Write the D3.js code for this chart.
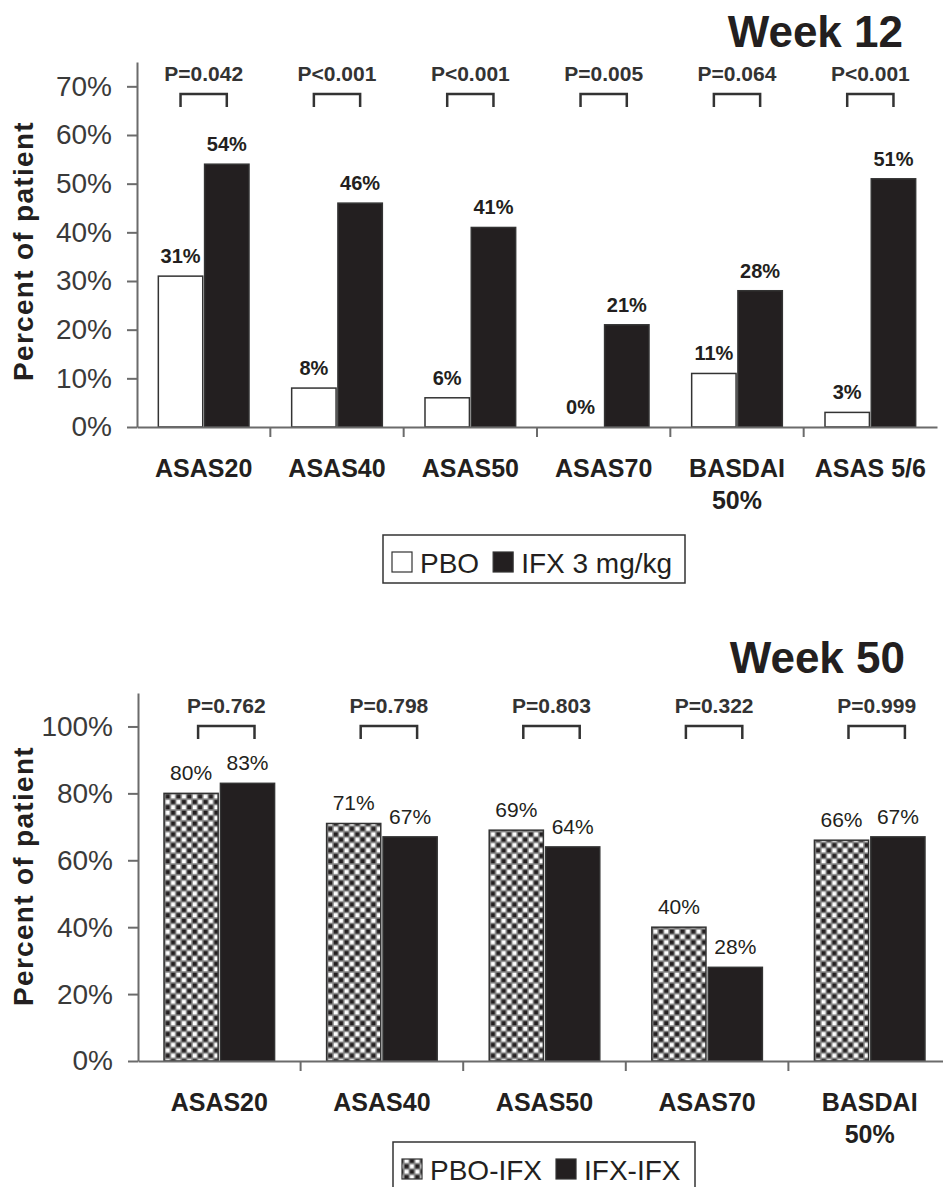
<!DOCTYPE html>
<html>
<head>
<meta charset="utf-8">
<script src="https://cdn.jsdelivr.net/npm/d3@7"></script>
<style>
  body { margin: 0; background: #fff; }
  svg { display: block; font-family: "Liberation Sans", Arial, sans-serif; }
</style>
</head>
<body>
<svg id="chart" width="943" height="1187"></svg>
<script>
// ---- Week 12 data ----
const week12Categories = ["ASAS20", "ASAS40", "ASAS50", "ASAS70", "BASDAI\n50%", "ASAS 5/6"];
const week12Pbo = [31, 8, 6, 0, 11, 3];
const week12Ifx = [54, 46, 41, 21, 28, 51];
const week12PValues = ["P=0.042", "P<0.001", "P<0.001", "P=0.005", "P=0.064", "P<0.001"];
const week12Ticks = [0, 10, 20, 30, 40, 50, 60, 70];
const week12Series = ["PBO", "IFX 3 mg/kg"];

// ---- Week 50 data ----
const week50Categories = ["ASAS20", "ASAS40", "ASAS50", "ASAS70", "BASDAI\n50%"];
const week50PboIfx = [80, 71, 69, 40, 66];
const week50IfxIfx = [83, 67, 64, 28, 67];
const week50PValues = ["P=0.762", "P=0.798", "P=0.803", "P=0.322", "P=0.999"];
const week50Ticks = [0, 20, 40, 60, 80, 100];
const week50Series = ["PBO-IFX", "IFX-IFX"];

const ink = "#231f20";
const axisColor = "#6b6b6b";

const svg = d3.select("#chart");
svg.append("rect").attr("width", 943).attr("height", 1187).attr("fill", "#fff");

// checker pattern for the PBO-IFX bars
const pat = svg.append("defs").append("pattern")
  .attr("id", "checker")
  .attr("width", 10.8).attr("height", 10.8)
  .attr("patternUnits", "userSpaceOnUse");
pat.append("rect").attr("width", 10.8).attr("height", 10.8).attr("fill", "#858585");
[[0, 0, ink], [5.4, 0, "#fff"], [0, 5.4, "#fff"], [5.4, 5.4, ink]].forEach(([px, py, c]) => {
  pat.append("rect").attr("x", px + 0.75).attr("y", py + 0.75)
    .attr("width", 3.9).attr("height", 3.9).attr("fill", c);
});

function drawPanel(cfg) {
  const x0 = d3.scaleBand()
    .domain(cfg.categories)
    .range([cfg.left, cfg.right])
    .padding(0);

  const x1 = d3.scaleBand()
    .domain([0, 1])
    .range([x0.bandwidth() * 0.16, x0.bandwidth() * 0.84])
    .paddingInner(0.04);

  const y = d3.scaleLinear()
    .domain([0, cfg.yMax])
    .range([cfg.bottom, cfg.top]);

  const g = svg.append("g");

  // title
  g.append("text")
    .attr("x", cfg.titleX)
    .attr("y", cfg.titleY)
    .attr("text-anchor", "end")
    .style("font-size", "44px")
    .style("font-weight", "bold")
    .attr("fill", ink)
    .text(cfg.title);

  // y axis
  const yAxis = g.append("g")
    .attr("transform", `translate(${cfg.left},0)`)
    .call(d3.axisLeft(y).tickValues(cfg.ticks).tickFormat(d => d + "%").tickSize(10).tickSizeOuter(0).tickPadding(15));
  yAxis.select(".domain").attr("stroke", axisColor).attr("stroke-width", 2);
  yAxis.selectAll(".tick line").attr("stroke", axisColor).attr("stroke-width", 2);
  yAxis.selectAll("text")
    .style("font-size", "28px")
    .attr("fill", "#3a3a3a")
    .attr("font-family", "Liberation Sans, Arial, sans-serif");

  g.append("text")
    .attr("transform", `translate(33,${cfg.yLabelY}) rotate(-90)`)
    .attr("text-anchor", "middle")
    .style("font-size", "28px")
    .style("font-weight", "bold")
    .style("letter-spacing", "1.3px")
    .attr("fill", ink)
    .text("Percent of patient");

  // bars
  const rows = cfg.categories.map((c, i) => ({ cat: c, vals: [cfg.a[i], cfg.b[i]], p: cfg.pValues[i] }));

  const groups = g.selectAll(".cat")
    .data(rows)
    .enter()
    .append("g")
    .attr("class", "cat")
    .attr("transform", d => `translate(${x0(d.cat)},0)`);

  groups.selectAll("rect")
    .data(d => d.vals.map((v, k) => ({ v, k })))
    .enter()
    .append("rect")
    .attr("x", d => x1(d.k))
    .attr("y", d => y(d.v))
    .attr("width", x1.bandwidth())
    .attr("height", d => cfg.bottom - y(d.v))
    .attr("fill", d => cfg.fills[d.k])
    .attr("stroke", d => d.v > 0 ? "#333" : "none")
    .attr("stroke-width", 1.5);

  groups.selectAll(".val")
    .data(d => d.vals.map((v, k) => ({ v, k })))
    .enter()
    .append("text")
    .attr("class", "val")
    .attr("x", d => x1(d.k) + x1.bandwidth() / 2)
    .attr("y", d => y(d.v) - 13)
    .attr("text-anchor", "middle")
    .style("font-size", cfg.valueSize)
    .style("font-weight", cfg.valueWeight)
    .attr("fill", ink)
    .text(d => d.v + "%");

  // p-value brackets
  const c0 = x1(0) + x1.bandwidth() / 2 + cfg.bracketShift;
  const c1 = x1(1) + x1.bandwidth() / 2 + cfg.bracketShift;
  const bTop = cfg.top + cfg.bracketOffset;
  groups.append("path")
    .attr("d", `M${c0},${bTop + 13}V${bTop}H${c1}V${bTop + 13}`)
    .attr("fill", "none")
    .attr("stroke", "#333")
    .attr("stroke-width", 2.5);

  groups.append("text")
    .attr("x", (c0 + c1) / 2)
    .attr("y", bTop - 13)
    .attr("text-anchor", "middle")
    .style("font-size", "21px")
    .style("font-weight", "bold")
    .attr("fill", "#333")
    .text(d => d.p);

  // x axis
  const xAxis = g.append("g")
    .attr("transform", `translate(0,${cfg.bottom})`)
    .call(d3.axisBottom(x0).tickSize(0).tickSizeOuter(0).tickFormat(""));
  xAxis.select(".domain").attr("stroke", axisColor).attr("stroke-width", 2);

  g.selectAll(".sep")
    .data(x0.domain().slice(1))
    .enter()
    .append("line")
    .attr("x1", d => x0(d)).attr("x2", d => x0(d))
    .attr("y1", cfg.bottom).attr("y2", cfg.bottom + 10)
    .attr("stroke", axisColor)
    .attr("stroke-width", 2);

  const labels = g.selectAll(".catlab")
    .data(cfg.categories)
    .enter()
    .append("text")
    .attr("class", "catlab")
    .attr("x", d => x0(d) + x0.bandwidth() / 2)
    .attr("y", cfg.bottom + 50)
    .attr("text-anchor", "middle")
    .style("font-size", "25px")
    .style("font-weight", "bold")
    .attr("fill", ink);
  labels.each(function (d) {
    const parts = d.split("\n");
    const t = d3.select(this);
    parts.forEach((p, i) => {
      t.append("tspan")
        .attr("x", x0(d) + x0.bandwidth() / 2)
        .attr("dy", i === 0 ? 0 : 32)
        .text(p);
    });
  });

  // legend
  const lg = g.append("g").attr("transform", `translate(${cfg.legendX},${cfg.legendY})`);
  lg.append("rect")
    .attr("width", cfg.legendW).attr("height", 48)
    .attr("fill", "#fff")
    .attr("stroke", "#333")
    .attr("stroke-width", 1.5);
  let cx = 9;
  cfg.series.forEach((name, k) => {
    lg.append("rect")
      .attr("x", cx).attr("y", 17)
      .attr("width", 20).attr("height", 20)
      .attr("fill", cfg.fills[k])
      .attr("stroke", "#333")
      .attr("stroke-width", 1.2);
    const t = lg.append("text")
      .attr("x", cx + 28)
      .attr("y", 38)
      .style("font-size", "28px")
      .attr("fill", ink)
      .text(name);
    cx += 28 + t.node().getComputedTextLength() + 14;
  });
}

drawPanel({
  title: "Week 12", titleX: 903, titleY: 47,
  categories: week12Categories, a: week12Pbo, b: week12Ifx, pValues: week12PValues,
  series: week12Series, fills: ["#fff", ink],
  ticks: week12Ticks, yMax: 75,
  left: 137, right: 937, top: 62, bottom: 427,
  yLabelY: 251,
  valueSize: "20px", valueWeight: "bold",
  bracketOffset: 32, bracketShift: 0,
  legendX: 383, legendY: 535, legendW: 302
});

drawPanel({
  title: "Week 50", titleX: 905, titleY: 673,
  categories: week50Categories, a: week50PboIfx, b: week50IfxIfx, pValues: week50PValues,
  series: week50Series, fills: ["url(#checker)", ink],
  ticks: week50Ticks, yMax: 110,
  left: 138, right: 951, top: 693, bottom: 1061,
  yLabelY: 876,
  valueSize: "21px", valueWeight: "normal",
  bracketOffset: 33, bracketShift: 7,
  legendX: 393, legendY: 1142, legendW: 302
});
</script>
</body>
</html>
